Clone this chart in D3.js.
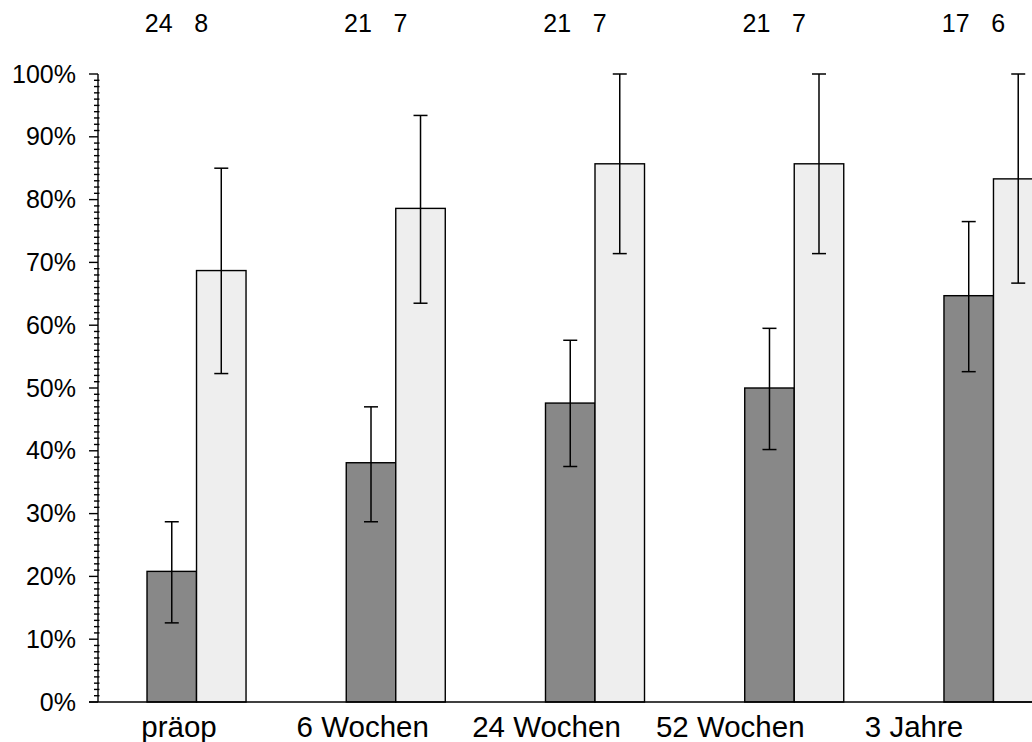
<!DOCTYPE html>
<html>
<head>
<meta charset="utf-8">
<script src="https://cdn.jsdelivr.net/npm/d3@7"></script>
<style>
  html, body { margin: 0; padding: 0; background: #fff; }
  svg { display: block; }
  text { font-family: "Liberation Sans", Arial, sans-serif; fill: #000; }
</style>
</head>
<body>
<svg id="chart" width="1032" height="742"></svg>
<script>
// ---- data ----
const categories = ["präop", "6 Wochen", "24 Wochen", "52 Wochen", "3 Jahre"];
const seriesNames = ["A", "B"];
const valuesA = [20.8, 38.1, 47.6, 50.0, 64.7];
const valuesB = [68.7, 78.6, 85.7, 85.7, 83.3];
const lowA = [12.6, 28.7, 37.5, 40.2, 52.6];
const highA = [28.7, 47.0, 57.6, 59.5, 76.5];
const lowB = [52.3, 63.5, 71.4, 71.4, 66.7];
const highB = [85.0, 93.4, 100, 100, 100];
const countsA = ["24", "21", "21", "21", "17"];
const countsB = ["8", "7", "7", "7", "6"];
const yTicks = [0, 10, 20, 30, 40, 50, 60, 70, 80, 90, 100];
const colors = ["#888888", "#eeeeee"];

const rows = [];
categories.forEach((c, i) => {
  rows.push({cat: c, s: "A", v: valuesA[i], lo: lowA[i], hi: highA[i], n: countsA[i]});
  rows.push({cat: c, s: "B", v: valuesB[i], lo: lowB[i], hi: highB[i], n: countsB[i]});
});

const svg = d3.select("#chart");
const axisX = 98, y0 = 702, y1 = 74;

const y = d3.scaleLinear().domain([0, 100]).range([y0, y1]);
const x = d3.scaleBand().domain(categories).range([98, 1092]).paddingInner(0.503).paddingOuter(0.246);
const xs = d3.scaleBand().domain(seriesNames).range([0, x.bandwidth()]);
const xLabel = d3.scalePoint().domain(categories).range([179, 914]);
const color = d3.scaleOrdinal().domain(seriesNames).range(colors);

// bars
svg.append("g").selectAll("rect").data(rows).join("rect")
  .attr("x", d => x(d.cat) + xs(d.s))
  .attr("y", d => y(d.v))
  .attr("width", xs.bandwidth())
  .attr("height", d => y(0) - y(d.v))
  .attr("fill", d => color(d.s))
  .attr("stroke", "#000")
  .attr("stroke-width", 1.4);

// error bars
const eb = svg.append("g").attr("stroke", "#000").attr("stroke-width", 1.5);
const cx = d => x(d.cat) + xs(d.s) + xs.bandwidth() / 2;
eb.selectAll("line.v").data(rows).join("line").attr("class", "v")
  .attr("x1", cx).attr("x2", cx)
  .attr("y1", d => y(d.lo)).attr("y2", d => y(d.hi));
eb.selectAll("line.t").data(rows).join("line").attr("class", "t")
  .attr("x1", d => cx(d) - 7).attr("x2", d => cx(d) + 7)
  .attr("y1", d => y(d.hi)).attr("y2", d => y(d.hi));
eb.selectAll("line.b").data(rows).join("line").attr("class", "b")
  .attr("x1", d => cx(d) - 7).attr("x2", d => cx(d) + 7)
  .attr("y1", d => y(d.lo)).attr("y2", d => y(d.lo));

// y axis
const ax = svg.append("g").attr("stroke", "#000").attr("stroke-width", 1.4);
ax.append("line").attr("x1", axisX).attr("x2", axisX).attr("y1", y(100)).attr("y2", y(0));
ax.append("line").attr("x1", axisX - 9).attr("x2", 1032).attr("y1", y(0)).attr("y2", y(0));
const minor = d3.range(0, 101, 1).filter(v => v % 10 !== 0);
ax.selectAll("line.minor").data(minor).join("line").attr("class", "minor")
  .attr("x1", axisX - 4).attr("x2", axisX + 1.5)
  .attr("y1", d => y(d)).attr("y2", d => y(d));
ax.selectAll("line.major").data(yTicks).join("line").attr("class", "major")
  .attr("x1", axisX - 9).attr("x2", axisX)
  .attr("y1", d => y(d)).attr("y2", d => y(d));

svg.append("g").selectAll("text").data(yTicks).join("text")
  .attr("x", 76).attr("y", d => y(d)).attr("dy", "0.34em")
  .attr("text-anchor", "end").attr("font-size", 25)
  .text(d => d + "%");

// category labels
svg.append("g").selectAll("text").data(categories).join("text")
  .attr("x", d => xLabel(d)).attr("y", 737)
  .attr("text-anchor", "middle").attr("font-size", 29.5)
  .text(d => d);

// counts on top
svg.append("g").selectAll("text").data(rows).join("text")
  .attr("x", d => cx(d) + (d.s === "A" ? -13 : -20)).attr("y", 32)
  .attr("text-anchor", "middle").attr("font-size", 25)
  .text(d => d.n);
</script>
</body>
</html>
